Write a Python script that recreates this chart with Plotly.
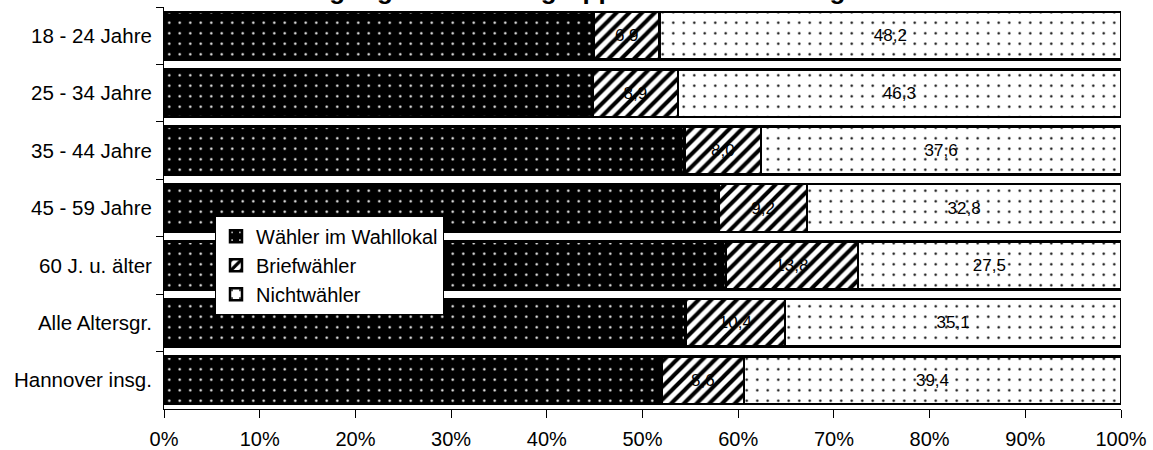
import plotly.graph_objects as go

# Age groups (top to bottom) and shares in percent
groups = ["18 - 24 Jahre", "25 - 34 Jahre", "35 - 44 Jahre", "45 - 59 Jahre",
          "60 J. u. älter", "Alle Altersgr.", "Hannover insg."]
wahllokal = [44.9, 44.8, 54.4, 58.0, 58.7, 54.5, 52.0]
briefwaehler = [6.9, 8.9, 8.0, 9.2, 13.8, 10.4, 8.6]
nichtwaehler = [48.2, 46.3, 37.6, 32.8, 27.5, 35.1, 39.4]

x_ticks = [0, 10, 20, 30, 40, 50, 60, 70, 80, 90, 100]

FONT = "Liberation Sans, Arial, sans-serif"


def de(v):
    return f"{v:.1f}".replace(".", ",")


fig = go.Figure()

fig.add_trace(go.Bar(
    y=groups, x=wahllokal, orientation="h", name="Wähler im Wahllokal",
    legendgroup="a",
    marker=dict(color="black", line=dict(color="black", width=2.5),
                pattern=dict(shape=".", fgcolor="white", bgcolor="black",
                             size=10.5, solidity=0.04, fillmode="replace")),
    hoverinfo="x+y",
))
fig.add_trace(go.Bar(
    y=groups, x=briefwaehler, orientation="h", name="Briefwähler",
    legendgroup="b",
    text=[de(v) for v in briefwaehler], textposition="inside",
    insidetextanchor="middle", textangle=0, constraintext="none",
    textfont=dict(family=FONT, size=17, color="black"),
    marker=dict(color="white", line=dict(color="black", width=2.5),
                pattern=dict(shape="/", fgcolor="black", bgcolor="white",
                             size=9, solidity=0.45, fillmode="replace")),
))
fig.add_trace(go.Bar(
    y=groups, x=nichtwaehler, orientation="h", name="Nichtwähler",
    legendgroup="c",
    text=[de(v) for v in nichtwaehler], textposition="inside",
    insidetextanchor="middle", textangle=0, constraintext="none",
    textfont=dict(family=FONT, size=17, color="black"),
    marker=dict(color="white", line=dict(color="black", width=2.5),
                pattern=dict(shape=".", fgcolor="black", bgcolor="white",
                             size=10.5, solidity=0.04, fillmode="replace")),
))

fig.add_annotation(
    text="<b>Wahlbeteiligung nach Altersgruppen bei der Landtagswahl</b>",
    xref="paper", yref="paper", x=(191 - 164) / 957, y=1.0,
    xanchor="left", yanchor="bottom", showarrow=False,
    font=dict(family=FONT, size=26, color="black"),
)

fig.update_layout(
    width=1153, height=450,
    margin=dict(l=164, r=32, t=7, b=41, autoexpand=False),
    barmode="stack", bargap=0.17,
    paper_bgcolor="white", plot_bgcolor="white",
    font=dict(family=FONT, size=20, color="black"),
    showlegend=True,
    legend=dict(
        x=(215 - 164) / 957, y=(409.5 - 216) / 402.5,
        xanchor="left", yanchor="top",
        bgcolor="white", bordercolor="black", borderwidth=1,
        font=dict(family=FONT, size=20, color="black"),
        traceorder="normal", tracegroupgap=6,
    ),
    xaxis=dict(
        range=[0, 100], tickvals=x_ticks,
        ticktext=[f"{t}%" for t in x_ticks],
        showgrid=False, zeroline=False,
        showline=True, linecolor="black", linewidth=1,
        ticks="outside", ticklen=8, tickcolor="black",
        ticklabelstandoff=4,
        tickfont=dict(family=FONT, size=20, color="black"),
    ),
    yaxis=dict(
        autorange="reversed", categoryorder="array", categoryarray=groups,
        showgrid=False, zeroline=False,
        showline=True, linecolor="black", linewidth=1,
        ticks="outside", ticklen=7, tickcolor="black", tickson="boundaries",
        ticklabelstandoff=7,
        tickfont=dict(family=FONT, size=20.5, color="black"),
    ),
)

fig.write_html("out.html")
